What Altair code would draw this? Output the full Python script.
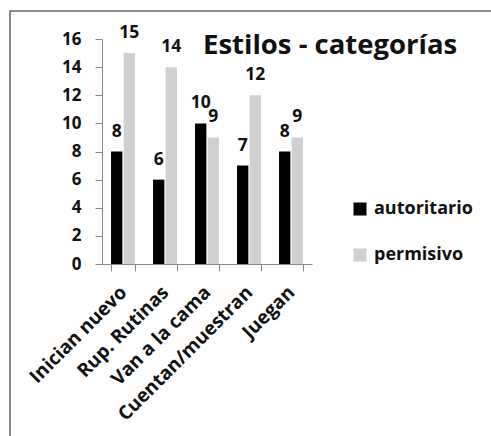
import altair as alt
import pandas as pd

categories = ["Inician nuevo", "Rup. Rutinas", "Van a la cama", "Cuentan/muestran", "Juegan"]
autoritario = [8, 6, 10, 7, 8]
permisivo = [15, 14, 9, 12, 9]
series_names = ["autoritario", "permisivo"]
colors = ["#000000", "#d0d0d0"]
y_ticks = [0, 2, 4, 6, 8, 10, 12, 14, 16]

rows = []
for i, c in enumerate(categories):
    rows.append({"cat": c, "serie": "autoritario", "valor": autoritario[i]})
    rows.append({"cat": c, "serie": "permisivo", "valor": permisivo[i]})
df = pd.DataFrame(rows)

FONT = "Open Sans"

x = alt.X("cat:N", sort=categories, title=None,
          scale=alt.Scale(paddingInner=0.43, paddingOuter=0.215),
          axis=alt.Axis(labelAngle=-45, labelAlign="right", labelBaseline="middle",
                        labelFont=FONT, labelFontSize=19, labelFontWeight="bold",
                        labelColor="#111111", labelPadding=18, tickBand="extent",
                        tickSize=7, tickColor="#888888", domainColor="#888888",
                        labelOverlap=False, labelLimit=400))
xo = alt.XOffset("serie:N", sort=series_names, scale=alt.Scale(paddingInner=0.1))
y = alt.Y("valor:Q", title=None,
          scale=alt.Scale(domain=[0, 16], nice=False),
          axis=alt.Axis(values=y_ticks, tickCount=9, grid=False, labelFont=FONT, labelFontSize=17,
                        labelFontWeight="bold", labelColor="#111111", labelPadding=14,
                        tickSize=7, tickColor="#888888", domainColor="#888888",
                        labelOverlap=False))
color = alt.Color("serie:N", sort=series_names,
                  scale=alt.Scale(domain=series_names, range=colors),
                  legend=alt.Legend(title=None, orient="none", legendX=249, legendY=161,
                                    symbolType="square", symbolSize=169, symbolStrokeWidth=0,
                                    labelFont=FONT, labelFontSize=18, labelFontWeight="bold",
                                    labelColor="#111111", labelOffset=5, rowPadding=28))

base = alt.Chart(df)
bars = base.mark_bar().encode(x=x, xOffset=xo, y=y, color=color)
labels = base.mark_text(baseline="alphabetic", dy=-15, font=FONT, fontSize=17.5,
                        fontWeight="bold", color="#111111").encode(
    x=x, xOffset=xo, y=y, text="valor:Q")

frame_df = pd.DataFrame({"k": [0]})
border = alt.Chart(frame_df).mark_rect(fill=None, stroke="#666666", strokeWidth=1.5).encode(
    x=alt.value(-92), x2=alt.value(420), y=alt.value(-28), y2=alt.value(420))

chart = alt.layer(bars, labels, border).properties(
    width=210, height=225,
    title=alt.TitleParams("Estilos - categorías", anchor="start", frame="group",
                          font=FONT, fontSize=27.5, fontWeight="bold", color="#111111",
                          baseline="alphabetic", dx=101, dy=71, offset=0),
    autosize=alt.AutoSizeParams(type="none"),
    padding={"left": 102, "top": 39, "right": 179, "bottom": 172},
).configure(background="white", view=alt.ViewConfig(stroke=None, strokeWidth=0))

chart.save("out.html", embed_options={"renderer": "svg", "actions": False})
